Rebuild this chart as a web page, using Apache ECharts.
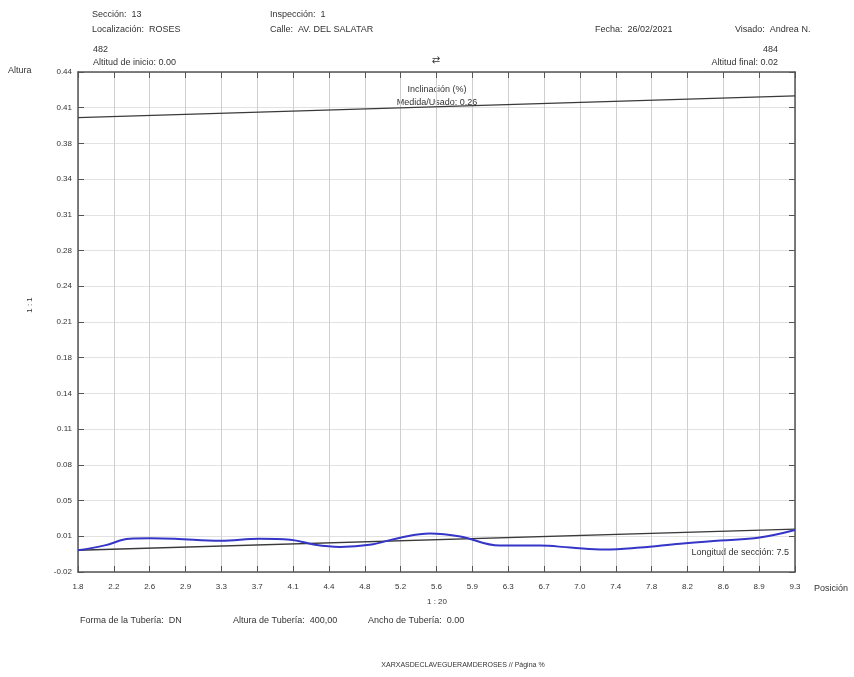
<!DOCTYPE html>
<html>
<head>
<meta charset="utf-8">
<script src="https://cdn.jsdelivr.net/npm/echarts@6/dist/echarts.min.js"></script>
<style>
html,body{margin:0;padding:0;background:#fff;}
#chart{width:854px;height:677px;}
</style>
</head>
<body>
<div id="chart"></div>
<script>
// Tick labels
var xTickLabels = ['1.8','2.2','2.6','2.9','3.3','3.7','4.1','4.4','4.8','5.2','5.6','5.9','6.3','6.7','7.0','7.4','7.8','8.2','8.6','8.9','9.3'];
var yTickLabels = ['-0.02','0.01','0.05','0.08','0.11','0.14','0.18','0.21','0.24','0.28','0.31','0.34','0.38','0.41','0.44'];

// Axis ranges
var xMin = 1.8, xMax = 9.3;
var yMin = -0.02, yMax = 0.44;

// Pipe lines (position, altitude)
var pipeBottom = [[1.8, 0.000], [9.3, 0.0195]];
var pipeTop = [[1.8, 0.398], [9.3, 0.418]];

// Measured profile (position, altitude)
var profileX = [1.8, 2.08, 2.34, 2.55, 2.81, 3.29, 3.70, 4.02, 4.28, 4.54, 4.85, 5.17, 5.48, 5.80, 6.21, 6.63, 6.95, 7.31, 7.68, 8.10, 8.52, 8.93, 9.3];
var profileY = [0.000, 0.0045, 0.0106, 0.011, 0.0106, 0.0087, 0.0106, 0.0097, 0.005, 0.0031, 0.005, 0.0116, 0.0154, 0.0126, 0.0043, 0.0043, 0.0025, 0.0006, 0.0025, 0.0061, 0.0089, 0.0117, 0.0186];

var profile = profileX.map(function (x, i) { return [x, profileY[i]]; });

var chart = echarts.init(document.getElementById('chart'), null, {renderer: 'canvas'});
var txt = '#333';
var F = '9px "Liberation Sans", Arial, sans-serif';
var FS = '8px "Liberation Sans", Arial, sans-serif';

function T(text, x, y, opt) {
  opt = opt || {};
  return {
    type: 'text', x: x, y: y, rotation: opt.rotation || 0, silent: true,
    style: {text: text, font: opt.font || F, fill: opt.fill || txt,
      textAlign: opt.align || 'left', textVerticalAlign: 'middle'}
  };
}

var catAxisCommon = {
  type: 'category', boundaryGap: false,
  axisLine: {show: true, lineStyle: {color: '#555', width: 1.5}},
  axisTick: {show: true, inside: true, length: 6, lineStyle: {color: '#555'}},
};

var option = {
  backgroundColor: '#fff',
  animation: false,
  grid: {left: 78, right: 59, top: 72, bottom: 105, containLabel: false},
  xAxis: [
    {type: 'value', min: xMin, max: xMax, show: false},
    Object.assign({}, catAxisCommon, {
      position: 'bottom', data: xTickLabels,
      axisLabel: {color: txt, fontSize: 8, fontFamily: 'Liberation Sans', margin: 11},
      splitLine: {show: true, lineStyle: {color: '#cfcfcf', width: 1}}
    }),
    Object.assign({}, catAxisCommon, {
      position: 'top', data: xTickLabels,
      axisLabel: {show: false}, splitLine: {show: false}
    })
  ],
  yAxis: [
    {type: 'value', min: yMin, max: yMax, show: false},
    Object.assign({}, catAxisCommon, {
      position: 'left', data: yTickLabels,
      axisLabel: {color: txt, fontSize: 8, fontFamily: 'Liberation Sans', margin: 6},
      splitLine: {show: true, lineStyle: {color: '#e2e2e2', width: 1}}
    }),
    Object.assign({}, catAxisCommon, {
      position: 'right', data: yTickLabels,
      axisLabel: {show: false}, splitLine: {show: false}
    })
  ],
  series: [
    {
      type: 'line', name: 'top', xAxisIndex: 0, yAxisIndex: 0, data: pipeTop,
      symbol: 'none', lineStyle: {color: '#3a3a3a', width: 1.3}, z: 3
    },
    {
      type: 'line', name: 'bottom', xAxisIndex: 0, yAxisIndex: 0, data: pipeBottom,
      symbol: 'none', lineStyle: {color: '#3a3a3a', width: 1.3}, z: 3
    },
    {
      type: 'line', name: 'profile', xAxisIndex: 0, yAxisIndex: 0, data: profile,
      symbol: 'none', smooth: 0.4, lineStyle: {color: '#3535c8', width: 2}, z: 4
    }
  ],
  graphic: [
    T('Sección:  13', 92, 15),
    T('Localización:  ROSES', 92, 30),
    T('Inspección:  1', 270, 15),
    T('Calle:  AV. DEL SALATAR', 270, 30),
    T('Fecha:  26/02/2021', 595, 30),
    T('Visado:  Andrea N.', 735, 30),
    T('482', 93, 50),
    T('Altitud de inicio: 0.00', 93, 63),
    T('484', 778, 50, {align: 'right'}),
    T('Altitud final: 0.02', 778, 63, {align: 'right'}),
    T('⇄', 436, 60, {align: 'center', font: '10px "DejaVu Sans", sans-serif'}),
    T('Altura', 8, 71),
    T('Inclinación (%)', 437, 90, {align: 'center'}),
    T('Medida/Usado: 0.26', 437, 103, {align: 'center'}),
    T('1 : 1', 30, 305, {align: 'center', rotation: Math.PI / 2, font: FS}),
    T('Longitud de sección: 7.5', 789, 553, {align: 'right'}),
    T('Posición', 814, 589),
    T('1 : 20', 437, 602, {align: 'center', font: FS}),
    T('Forma de la Tubería:  DN', 80, 621),
    T('Altura de Tubería:  400,00', 233, 621),
    T('Ancho de Tubería:  0.00', 368, 621),
    T('XARXASDECLAVEGUERAMDEROSES // Página %', 463, 665, {align: 'center', font: '7px "Liberation Sans", Arial, sans-serif'})
  ]
};
chart.setOption(option);
</script>
</body>
</html>
